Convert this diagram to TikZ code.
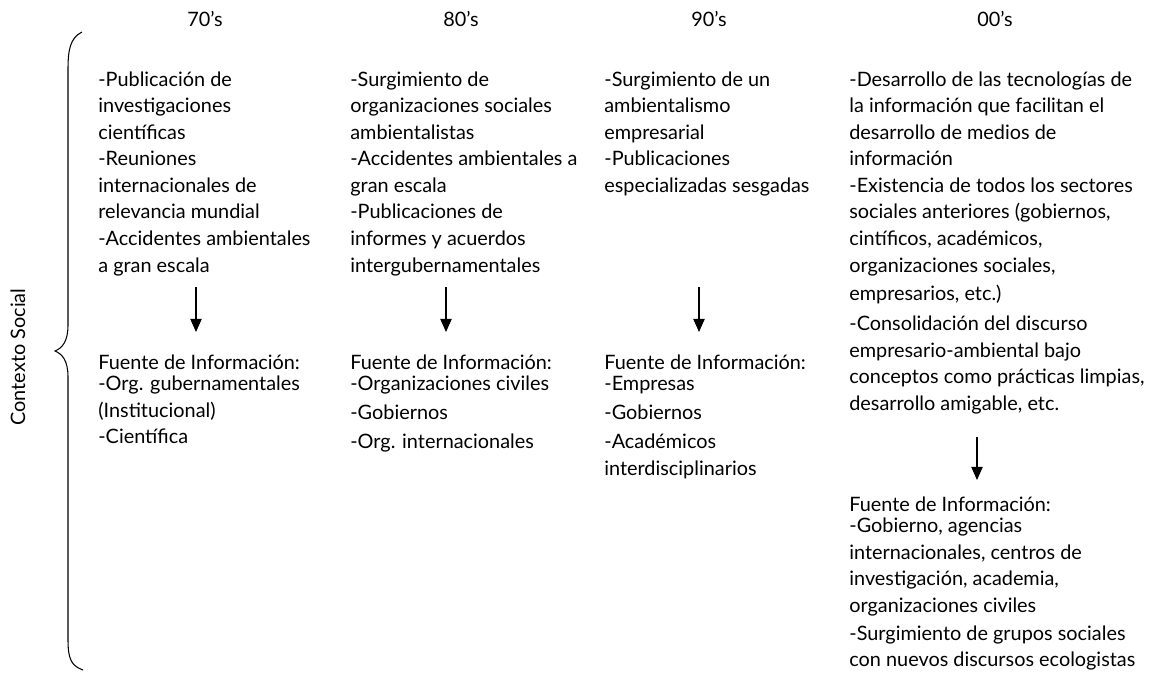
\documentclass[tikz,border=0pt]{standalone}
\usepackage{fontspec}
\setmainfont{Lato}
\usetikzlibrary{arrows.meta}

\begin{document}
\begin{tikzpicture}[
    decade/.style={anchor=base, inner sep=0pt, font=\fontsize{11.3}{15.1}\selectfont},
    events/.style={anchor=north west, align=left, inner sep=0pt, font=\fontsize{11.3}{15.1}\selectfont},
    flow/.style={-{Triangle[width=6.5pt,length=7.5pt]}, line width=0.6pt}
]
\useasboundingbox (0,0) rectangle (23.16,-13.5);

% Decades, centred over their columns
\node[decade] (d70) at (4.1, -0.52) {70’s};
\node[decade] (d80) at (9.22, -0.52) {80’s};
\node[decade] (d90) at (14.18, -0.52) {90’s};
\node[decade] (d00) at (19.9, -0.52) {00’s};

% Social context brace on the left
\draw[line width=0.6pt] (1.64,-0.64) .. controls (1.4,-0.76) and (1.36,-1.0) .. (1.36,-1.4) -- (1.36,-6.5)
    .. controls (1.36,-6.84) and (1.24,-6.96) .. (1.1,-7.02)
    .. controls (1.24,-7.08) and (1.36,-7.2) .. (1.36,-7.54) -- (1.36,-12.8)
    .. controls (1.36,-13.2) and (1.44,-13.32) .. (1.66,-13.4);
\node[decade, anchor=center, rotate=90] (ctx) at (0.36,-7.14) {Contexto Social};

% Events of each decade (top of first strut = baseline + 0.373)
\node[events] (ev70) at (1.96, -1.347) {\strut-Publicación de\\investigaciones\\científicas\\-Reuniones\\internacionales de\\relevancia mundial\\-Accidentes ambientales\\a gran escala};
\node[events] (ev80) at (7.0, -1.347) {\strut-Surgimiento de\\organizaciones sociales\\ambientalistas\\-Accidentes ambientales a\\gran escala\\-Publicaciones de\\informes y acuerdos\\intergubernamentales};
\node[events] (ev90) at (12.08, -1.347) {\strut-Surgimiento de un\\ambientalismo\\empresarial\\-Publicaciones\\especializadas sesgadas};
\node[events] (ev00) at (16.98, -1.347) {\strut-Desarrollo de las tecnologías de\\la información que facilitan el\\desarrollo de medios de\\información\\-Existencia de todos los sectores\\sociales anteriores (gobiernos,\\cintíficos, académicos,\\organizaciones sociales,\\[1pt]empresarios, etc.)\\[2.2pt]-Consolidación del discurso\\empresario-ambiental bajo\\conceptos como prácticas limpias,\\desarrollo amigable, etc.};

% Information sources
\node[events] (src70) at (1.96, -7.007) {\strut Fuente de Información:\\[-3pt]-Org. gubernamentales\\(Institucional)\\-Científica};
\node[events] (src80) at (7.0, -7.007) {\strut Fuente de Información:\\[-3pt]-Organizaciones civiles\\[1.5pt]-Gobiernos\\[1.5pt]-Org. internacionales};
\node[events] (src90) at (12.08, -7.007) {\strut Fuente de Información:\\[-3pt]-Empresas\\[1.5pt]-Gobiernos\\[1.5pt]-Académicos\\interdisciplinarios};
\node[events] (src00) at (16.98, -9.847) {\strut Fuente de Información:\\[-3pt]-Gobierno, agencias\\internacionales, centros de\\investigación, academia,\\organizaciones civiles\\[1pt]-Surgimiento de grupos sociales\\con nuevos discursos ecologistas};

% Arrow ends
\coordinate (a70) at (3.92, -5.74);
\coordinate (b70) at (3.92, -6.64);
\coordinate (a80) at (8.92, -5.74);
\coordinate (b80) at (8.92, -6.64);
\coordinate (a90) at (13.98, -5.74);
\coordinate (b90) at (13.98, -6.64);
\coordinate (a00) at (19.54, -8.74);
\coordinate (b00) at (19.54, -9.6);

\draw[flow] (a70) -- (b70);
\draw[flow] (a80) -- (b80);
\draw[flow] (a90) -- (b90);
\draw[flow] (a00) -- (b00);

\end{tikzpicture}
\end{document}
